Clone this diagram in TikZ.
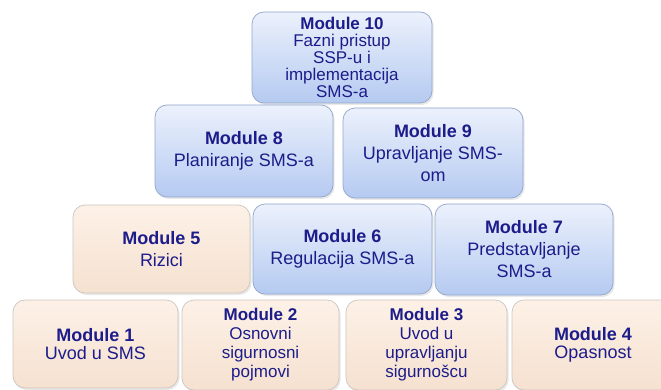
\documentclass[tikz,border=0pt]{standalone}
\usepackage{fontspec}
\setmainfont{Liberation Sans}
\usetikzlibrary{shadows}

\definecolor{navy}{RGB}{28,28,138}
\definecolor{bluetop}{RGB}{236,241,252}
\definecolor{bluebot}{RGB}{181,202,241}
\definecolor{blueedge}{RGB}{145,166,204}
\definecolor{beigetop}{RGB}{253,241,231}
\definecolor{beigebot}{RGB}{245,225,208}
\definecolor{beigeedge}{RGB}{205,198,192}

\tikzset{
  module/.style={rounded corners=12pt, align=center, text=navy,
    inner sep=2pt, line width=0.7pt,
    drop shadow={opacity=0.18, shadow xshift=1.5pt, shadow yshift=-2pt},
    font=\fontsize{18}{22}\selectfont},
  bluebox/.style={module, draw=blueedge, top color=bluetop, bottom color=bluebot},
  beigebox/.style={module, draw=beigeedge, top color=beigetop, bottom color=beigebot},
  tight/.style={font=\fontsize{17}{17}\selectfont},
  medium/.style={font=\fontsize{17}{19}\selectfont},
}

\begin{document}
\begin{tikzpicture}[x=1pt, y=-1pt]
  \useasboundingbox (0,0) rectangle (661,390);
  \clip (0,0) rectangle (661,390);
  \fill[white] (0,0) rectangle (661,390);

  % top tier
  \node[bluebox, tight, minimum width=180pt, minimum height=91pt] (m10) at (342,57.5)
    {\textbf{Module 10}\\Fazni pristup\\SSP-u i\\implementacija\\SMS-a};

  % second tier
  \node[bluebox, minimum width=178pt, minimum height=92pt] (m8) at (244,151)
    {\textbf{Module 8}\\Planiranje SMS-a};
  \node[bluebox, minimum width=180pt, minimum height=90pt] (m9) at (433,153)
    {\textbf{Module 9}\\Upravljanje SMS-\\om};

  % third tier
  \node[beigebox, minimum width=177pt, minimum height=88pt] (m5) at (161.5,249)
    {\textbf{Module 5}\\Rizici};
  \node[bluebox, minimum width=179pt, minimum height=90pt] (m6) at (342.5,249)
    {\textbf{Module 6}\\Regulacija SMS-a};
  \node[bluebox, minimum width=178pt, minimum height=91pt] (m7) at (524,249.5)
    {\textbf{Module 7}\\Predstavljanje\\SMS-a};

  % base tier
  \node[beigebox, font=\fontsize{18}{18}\selectfont, minimum width=165pt, minimum height=88pt] (m1) at (95.5,344)
    {\textbf{Module 1}\\Uvod u SMS};
  \node[beigebox, medium, minimum width=157pt, minimum height=90pt] (m2) at (260.5,345)
    {\textbf{Module 2}\\Osnovni\\sigurnosni\\pojmovi};
  \node[beigebox, medium, minimum width=161pt, minimum height=90pt] (m3) at (426.5,345)
    {\textbf{Module 3}\\Uvod u\\upravljanju\\sigurnošcu};
  \node[beigebox, font=\fontsize{18}{18}\selectfont, minimum width=162pt, minimum height=90pt] (m4) at (593,345)
    {\textbf{Module 4}\\Opasnost};
\end{tikzpicture}
\end{document}
